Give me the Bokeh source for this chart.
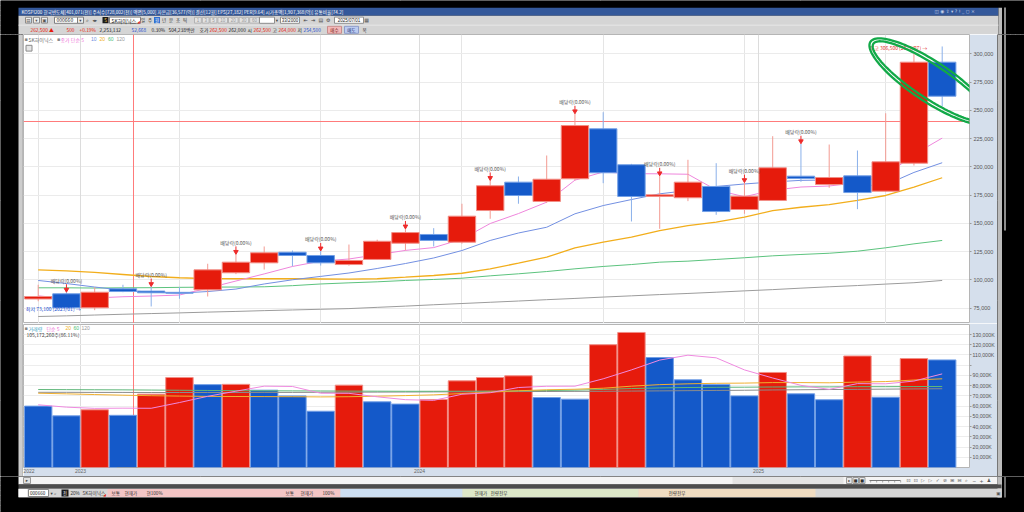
import numpy as np
from bokeh.plotting import figure
from bokeh.models import (Range1d, Label, FixedTicker, Grid,
                          NumeralTickFormatter, PolyAnnotation, ColumnDataSource)
from bokeh.layouts import row, column
from bokeh.embed import file_html
from bokeh.resources import INLINE
from bokeh.core.properties import value

KR = "Noto Sans CJK KR"
SYM = "DejaVu Sans"
NUM = "Liberation Sans"

# ---------------- data : SK하이닉스 monthly candles ----------------
months = ["2022/11", "2022/12",
          "2023/01", "2023/02", "2023/03", "2023/04", "2023/05", "2023/06",
          "2023/07", "2023/08", "2023/09", "2023/10", "2023/11", "2023/12",
          "2024/01", "2024/02", "2024/03", "2024/04", "2024/05", "2024/06",
          "2024/07", "2024/08", "2024/09", "2024/10", "2024/11", "2024/12",
          "2025/01", "2025/02", "2025/03", "2025/04", "2025/05", "2025/06",
          "2025/07"]
opens = [83000, 87600, 75200, 92000, 90000, 88900, 91100, 106200, 115000, 124400,
         121500, 113500, 118000, 132400, 140100, 133300, 161300, 186400, 169300, 189400,
         233600, 201800, 173700, 172600, 182600, 162200, 170200, 191700, 184300, 192000,
         178400, 203200, 292600]
highs = [95600, 89000, 93400, 95600, 94000, 93500, 114200, 122500, 129500, 125900,
         125500, 131200, 135500, 145000, 145700, 167300, 187900, 191400, 210000, 246900,
         248300, 202600, 192000, 206200, 203200, 186000, 227100, 220400, 219700, 214400,
         247400, 300000, 306500]
lows = [81000, 74800, 73100, 89000, 76400, 83200, 85200, 105000, 109100, 112000,
        112600, 112500, 117500, 126000, 129500, 132000, 154000, 167300, 168000, 188000,
        185500, 151600, 145100, 169600, 157500, 158400, 170000, 186700, 181400, 162500,
        178000, 201100, 253400]
closes = [85200, 75200, 89000, 89600, 88500, 88100, 108800, 115600, 123900, 121500,
          115000, 117100, 134100, 141800, 134800, 156300, 183200, 174600, 189000, 236500,
          194700, 173700, 175200, 186400, 160400, 174000, 199100, 189600, 190500, 177200,
          204400, 292600, 262500]
volumes = [60000, 50500, 56400, 51000, 71700, 88000, 81000, 81300, 75600, 70000,
           55000, 80500, 64200, 62000, 66500, 84700, 88000, 89600, 68400, 66800,
           120000, 132000, 107500, 85700, 81000, 70000, 92900, 72000, 66200, 109000,
           68700, 106500, 105172]   # thousand shares

ma5 = [85800, 83400, 83900, 85000, 85600, 86500, 92600, 98900, 105200, 111800,
       116500, 118400, 122200, 126000, 128500, 136000, 149800, 158600, 168700, 188200,
       195400, 193900, 193800, 193400, 179500, 173500, 179300, 182100, 183000, 186000,
       192200, 210900, 225400]
ma10 = [99400, 96700, 93600, 90800, 89000, 88200, 89600, 91800, 96300, 100000,
        103000, 106000, 110000, 114400, 119300, 125900, 134800, 141400, 146500, 158400,
        165700, 171000, 176100, 179000, 182600, 184800, 186600, 188000, 188300, 183000,
        184000, 195000, 203600]
ma20 = [108800, 107800, 106500, 104700, 102900, 101800, 101100, 100900, 100900, 100900,
        100700, 100500, 100900, 102300, 103800, 105800, 109700, 114700, 120000, 128300,
        133300, 137700, 143600, 148000, 151000, 155400, 161300, 164200, 166600, 170200,
        174600, 182100, 190300]
ma60 = [92900, 92900, 92700, 92900, 93000, 93300, 93500, 93600, 93800, 94800,
        96300, 97300, 98200, 99400, 100300, 101400, 103500, 105300, 107300, 109700,
        111800, 113500, 115600, 116500, 118000, 119500, 121200, 122400, 123500, 125300,
        128300, 131800, 134800]
ma120 = [67500, 68100, 68800, 69500, 70100, 70700, 71400, 72000, 72700, 73300,
         73900, 74500, 75600, 76700, 77900, 79000, 80100, 81200, 82400, 83500,
         84700, 85800, 86900, 87900, 89000, 90200, 91300, 92600, 93800, 94900,
         96200, 97400, 99400]
vma5 = [61300, 59000, 57800, 58000, 57900, 63500, 69600, 74600, 79500, 79200,
        72600, 72500, 69100, 66300, 65600, 71600, 73100, 78200, 79400, 79500,
        86700, 95400, 105000, 109800, 107200, 95400, 87500, 80300, 76400, 82000,
        81800, 84500, 91500]
vma20 = [72600, 72000, 71300, 70700, 70200, 69800, 69500, 69400, 69300, 69200,
         69000, 69200, 69700, 70300, 71000, 72300, 73700, 75000, 76000, 76500,
         77500, 79500, 81000, 81800, 82300, 82500, 83000, 83000, 82800, 83500,
         84000, 85500, 86700]
vma60 = [76200, 76100, 76000, 75900, 75700, 75500, 75300, 75100, 75000, 74900,
         74800, 74700, 74600, 74500, 74500, 74600, 74700, 74900, 75200, 75600,
         76300, 77200, 77800, 78200, 78400, 78500, 78700, 78800, 78800, 79000,
         79000, 79100, 79200]
vma120 = [73500, 73500, 73400, 73400, 73300, 73300, 73300, 73300, 73400, 73400,
          73500, 73600, 73700, 73800, 73900, 74000, 74100, 74200, 74300, 74400,
          74500, 74700, 74900, 75100, 75300, 75500, 75800, 76000, 76200, 76400,
          76600, 76800, 77000]
dividend_months = ["2022/12", "2023/03", "2023/06", "2023/09", "2023/12", "2024/03",
                   "2024/06", "2024/09", "2024/12", "2025/02"]
price_ticks = [75000, 100000, 125000, 150000, 175000, 200000, 225000, 250000, 275000, 300000]
volume_ticks = [10000, 20000, 30000, 40000, 50000, 60000, 70000, 80000, 90000,
                100000, 110000, 120000, 130000]

# ---------------- geometry helpers (window pixels -> data) ----------------
XS = -0.52
def PX(x): return XS + (x - 23) / 28.25
XE = PX(969)
PTOP = 317080
def PY(y): return PTOP - (y - 34) * 885
PBOT = PY(323)
def VY(y): return (467 - y) * 977.5
VTOP = VY(324)

RED = "#e61b0c"; BLUE = "#1459c9"
STRIP = "#d5dfec"
CROSS = "#ff7b7b"


def chrome(w, h, x0, x1, y0, y1):
    f = figure(width=w, height=h, x_range=Range1d(x0, x1), y_range=Range1d(y1, y0),
               toolbar_location=None, output_backend="svg",
               min_border_left=0, min_border_right=0, min_border_top=0, min_border_bottom=0,
               x_axis_location=None, y_axis_location=None,
               background_fill_color="black", border_fill_color="black",
               outline_line_color=None)
    f.quad(left=[x0], right=[x1], top=[y0], bottom=[y1], fill_color="black", line_color=None)
    return f


def T(f, x, y, s, color="#333333", size=5, align="left", font=KR, baseline="middle"):
    f.text(x=[x], y=[y], text=[s], text_color=color, text_font=value(font),
           text_font_size=f"{size}px", text_align=align, text_baseline=baseline)


def B(f, l, r, t, b, fill, line=None, lw=1):
    f.quad(left=[l], right=[r], top=[t], bottom=[b], fill_color=fill,
           line_color=line, line_width=lw)


def AL(f, x, y, s, color, size=5, bg=None, border=None, font=NUM, align="left"):
    f.add_layout(Label(x=x, y=y, text=s, text_color=color, text_font=font,
                       text_font_size=f"{size}px", text_align=align, text_baseline="middle",
                       background_fill_color=bg, background_fill_alpha=1.0 if bg else 0.0,
                       border_line_color=border, padding=1 if bg else 0))

# ---------------- header ----------------
hd = chrome(1024, 34, 0, 1024, 0, 34)
B(hd, 18, 998, 7.3, 15.2, "#34589a")
T(hd, 21, 11.3, "KOSPI200 한국반도체[401,071(천)]  주식수[728,002(천)]  액면[5,000]  자본금[36,577(억)]  결산[12월]  EPS[27,182]  PER[9.64]  시가총액[1,907,368(억)]  유통비율[74.2]", "white", 4.6)
T(hd, 934, 11.3, "◫ ◉ ⇪ ▾ ? ! _ ◻ ×", "#c9d3ea", 4.6, font=SYM)
B(hd, 1003.5, 1005.5, 7, 34, "#8d8d8d")
B(hd, 18, 998, 15.2, 34, "#d5d5d5")
B(hd, 998, 1001.5, 7.3, 34, "#bcbcbc")
B(hd, 18, 998, 24.3, 24.9, "#eeeeee")
for lx, s in ((25, "▤"), (33, "▾"), (41, "▣")):
    B(hd, lx, lx + 6, 16.8, 22.6, "#eeeeee", "#8c8c8c")
    T(hd, lx + 3, 19.7, s, "#555555", 4.5, align="center", font=SYM)
B(hd, 54, 77, 16.6, 22.8, "white", "#7f7f7f")
T(hd, 56, 19.7, "000660", "#222222", 5)
B(hd, 77, 83, 16.6, 22.8, "#ececec", "#7f7f7f")
T(hd, 80, 19.7, "▾", "#444444", 4.5, align="center", font=SYM)
T(hd, 85, 19.7, "⌕", "#444444", 5, font=SYM)
T(hd, 92, 19.7, "◂▸", "#444444", 4.5, font=SYM)
B(hd, 102, 108, 16.6, 22.8, "#1a1a1a")
T(hd, 105, 19.7, "S", "#f2c94c", 4.5, align="center")
B(hd, 109, 140, 16.6, 22.8, "white", "#7f7f7f")
T(hd, 111, 19.7, "SK하이닉스", "#111111", 5)
T(hd, 138, 21.5, "◢", RED, 3.5, align="center", font=SYM)
B(hd, 153.5, 159.5, 16.6, 22.8, "#2f6fd0")
for k, s in enumerate(["일", "주", "월", "년", "분", "초", "틱"]):
    T(hd, 142.5 + 7 * k, 19.7, s, "white" if s == "월" else "#333333", 4.5, align="center")
xx = 194
for s in ["1", "3", "5", "10", "20", "30", "60", "120"]:
    w = 4 + 2.8 * len(s)
    B(hd, xx, xx + w, 16.8, 22.6, "#e3e3e3", "#b3b3b3")
    T(hd, xx + w / 2, 19.7, s, "#9a9a9a", 4.5, align="center", font=NUM)
    xx += w + 1
B(hd, 259, 274, 16.6, 22.8, "white", "#8f8f8f")
T(hd, 276.5, 19.7, "▾", "#444444", 4.5, align="center", font=SYM)
B(hd, 280, 299, 16.6, 22.8, "white", "#8f8f8f")
T(hd, 289.5, 19.7, "33/2000", "#222222", 4.5, align="center", font=NUM)
for k, s in enumerate(["⇤", "⇥", "▤", "⚙"]):
    T(hd, 303 + 7.5 * k, 19.7, s, "#444444", 5, font=SYM)
B(hd, 334, 363, 16.6, 22.8, "white", "#8f8f8f")
T(hd, 348.5, 19.7, "2025/07/01", "#222222", 4.5, align="center", font=NUM)
T(hd, 366, 19.7, "▦", "#555555", 5, align="center", font=SYM)

row3 = [(30, "262,500 ▲", RED), (66, "500", RED), (79, "+0.19%", RED),
        (99, "2,253,132", "#222222"), (131, "52,668", "#1f4fd0"), (151, "0.30%", "#222222"),
        (168, "504,238백만", "#222222"), (199, "호가", "#222222"), (209, "262,500", RED),
        (228, "262,000", "#222222"), (247, "시", "#222222"), (253, "262,500", RED),
        (272, "고", "#222222"), (278, "264,000", RED), (297, "저", "#222222"),
        (303, "254,500", "#1f4fd0")]
for x, s, c in row3:
    T(hd, x, 29.3, s, c, 4.8)
B(hd, 327, 341, 25.8, 32.8, "#f2b9b9", "#c98c8c")
T(hd, 334, 29.3, "매수", "#7a1a1a", 4.5, align="center")
B(hd, 344, 358, 25.8, 32.8, "#bccbf0", "#8c9cc9")
T(hd, 351, 29.3, "매도", "#1a2a7a", 4.5, align="center")
T(hd, 362, 29.3, "목", "#333333", 4.5)

# ---------------- left / right frames ----------------
lf = chrome(23, 442, 0, 23, 34, 476)
B(lf, 18, 23, 34, 476, "#cdcdcd")
B(lf, 22, 23, 34, 476, "#a5a5a5")
rf = chrome(27, 442, 997, 1024, 34, 476)
B(rf, 997, 1001.5, 34, 476, "#bcbcbc")
B(rf, 1003.5, 1005.5, 34, 230, "#8d8d8d")

# ---------------- price panel ----------------
n = len(months)
idx = np.arange(n)
year_ticks = [i - 0.5 for i, m in enumerate(months) if m.endswith("/01")]
xlabel_ticks = [XS + 0.03] + year_ticks
xlabel_texts = [months[0][:4]] + [months[int(t + 0.5)][:4] for t in year_ticks]

p = figure(width=974, height=289, x_range=Range1d(XS, XE), y_range=Range1d(PBOT, PTOP),
           x_axis_location=None, y_axis_location="right", toolbar_location=None,
           output_backend="svg", min_border_left=0, min_border_top=0, min_border_bottom=0,
           min_border_right=28, background_fill_color="white", border_fill_color=STRIP,
           outline_line_color="#b5b5b5")
ay = p.yaxis[0]
ay.ticker = FixedTicker(ticks=price_ticks)
ay.formatter = NumeralTickFormatter(format="0,0")
ay.major_label_text_font = NUM
ay.major_label_text_font_size = "5.5px"
ay.major_label_text_color = "#555555"
ay.axis_line_color = None
ay.major_tick_line_color = "#9a9a9a"
ay.major_tick_out = 2
ay.major_tick_in = 0
ay.minor_tick_line_color = None
ay.major_label_standoff = 2
p.ygrid.ticker = FixedTicker(ticks=price_ticks)
p.ygrid.grid_line_color = "#ebebeb"
p.add_layout(Grid(dimension=0, ticker=FixedTicker(ticks=year_ticks), grid_line_color="#dcdcdc"))

# crosshair as 1-px filled strips (drawn under the marks)
cross_x = PX(133)
cross_y = PY(121)
p.quad(left=[XS], right=[XE], top=[cross_y + 0.5 * 885], bottom=[cross_y - 0.5 * 885],
       fill_color=CROSS, line_color=None)
p.quad(left=[cross_x - 0.5 / 28.25], right=[cross_x + 0.5 / 28.25], top=[PTOP], bottom=[PBOT],
       fill_color=CROSS, line_color=None)

ma_styles = [(ma120, "#9c9c9c", 1), (ma60, "#5cc37e", 1), (ma20, "#f2ae1c", 1.3),
             (ma10, "#7390e2", 1), (ma5, "#ef86dc", 1)]
for arr, col, lw in ma_styles:
    p.line(idx, arr, line_color=col, line_width=lw)

up = [c >= o for o, c in zip(opens, closes)]
src = ColumnDataSource(dict(
    x=idx, h=highs, l=lows,
    top=np.maximum(opens, closes), bot=np.minimum(opens, closes),
    fill=[RED if u else BLUE for u in up],
    line=["#f28e86" if u else "#729fe6" for u in up],
    wick=["#f39a92" if u else "#8ab0ea" for u in up]))
p.segment(x0="x", y0="l", x1="x", y1="h", line_color="wick", line_width=1, source=src)
p.vbar(x="x", top="top", bottom="bot", width=0.97, fill_color="fill",
       line_color="line", line_width=1, source=src)

# dividend markers
div_idx = [months.index(m) for m in dividend_months]
div_h = [highs[i] for i in div_idx]
p.segment(x0=div_idx, x1=div_idx, y0=[h + 4 * 885 for h in div_h],
          y1=[h + 8 * 885 for h in div_h], line_color="#ee2a2a", line_width=1)
p.scatter(x=div_idx, y=[h + 2.6 * 885 for h in div_h], marker="inverted_triangle",
          size=4.5, fill_color="#ee2a2a", line_color="#ee2a2a")
p.text(x=div_idx, y=div_h, text=["배당락(0.00%)"] * len(div_idx), y_offset=-8.5,
       text_font=value(KR), text_font_size="5px", text_color="#555555",
       text_align="center", text_baseline="bottom")

# high / low markers
ih = int(np.argmax(highs)); il = int(np.argmin(lows))
p.text(x=[ih], y=[highs[ih]], text=[f"최고 {highs[ih]:,} ({months[ih]}) →"], x_offset=-15,
       y_offset=1, text_font=value(KR), text_font_size="5px", text_color="#e0302a",
       text_align="right", text_baseline="middle")
p.text(x=[il], y=[lows[il]], text=[f"최저 {lows[il]:,} ({months[il]}) →"], x_offset=-14,
       y_offset=-2, text_font=value(KR), text_font_size="5px", text_color="#2050d0",
       text_align="right", text_baseline="middle")

# legend line
T(p, PX(24), PY(38.6), "▪", "#888888", 5, font=SYM)
T(p, PX(28), PY(38.6), "SK하이닉스", "#666666", 5)
T(p, PX(56.5), PY(38.6), "▪", "#888888", 5, font=SYM)
T(p, PX(60), PY(38.6), "종가 단순 5", "#ee70d6", 5)
T(p, PX(90.5), PY(38.6), "10", "#6f8fe0", 5, font=NUM)
T(p, PX(99), PY(38.6), "20", "#f0b020", 5, font=NUM)
T(p, PX(107.5), PY(38.6), "60", "#4fbf74", 5, font=NUM)
T(p, PX(116), PY(38.6), "120", "#999999", 5, font=NUM)
p.quad(left=[PX(25.5)], right=[PX(31.5)], top=[PY(44.8)], bottom=[PY(50.6)],
       fill_color="#e6e6e6", line_color="#8a8a8a")

# axis-strip labels
AL(p, PX(970.5), PY(39.2), "LC 259.10", "#e0302a", 4.8)
AL(p, PX(970.5), PY(44.6), "HC -14.36", "#2050d0", 4.8)
AL(p, PX(972), closes[-1], f"{closes[-1]:,}", "white", 5.2, bg="#1f5fcf")
AL(p, PX(974), PY(102.5), "-10.29%", "#2050d0", 4.6)
AL(p, PX(972), cross_y, f"{int(round(cross_y, -1)):,}", "#333333", 5.2, bg="#f2d066", border="#b08a20")

# hand-drawn green ellipse (double stroke)


def ellipse_pts(cx, cy, a, b, deg):
    t = np.linspace(0, 2 * np.pi, 120)
    th = np.radians(deg)
    X = cx + a * np.cos(t) * np.cos(th) - b * np.sin(t) * np.sin(th)
    Y = cy + a * np.cos(t) * np.sin(th) + b * np.sin(t) * np.cos(th)
    return [PX(x) for x in X], [PY(y) for y in Y]


for a, b in ((72, 20), (68.5, 16.5)):
    exs, eys = ellipse_pts(930, 81, a, b, 33.5)
    p.add_layout(PolyAnnotation(xs=exs, ys=eys, fill_color=None, fill_alpha=0,
                                line_color="#12a948", line_alpha=1.0, line_width=2.3))

# ---------------- volume panel ----------------
v = figure(width=974, height=153, x_range=p.x_range, y_range=Range1d(0, VTOP),
           x_axis_location="below", y_axis_location="right", toolbar_location=None,
           output_backend="svg", min_border_left=0, min_border_top=1, min_border_bottom=9,
           min_border_right=28, background_fill_color="white", border_fill_color=STRIP,
           outline_line_color="#b5b5b5")
vy = v.yaxis[0]
vy.ticker = FixedTicker(ticks=volume_ticks)
vy.major_label_overrides = {t: ("" if t == 100000 else f"{t:,}K") for t in volume_ticks}
vy.major_label_text_font = NUM
vy.major_label_text_font_size = "5.2px"
vy.major_label_text_color = "#555555"
vy.axis_line_color = None
vy.major_tick_line_color = "#9a9a9a"
vy.major_tick_out = 2
vy.major_tick_in = 0
vy.minor_tick_line_color = None
vy.major_label_standoff = 1
vx = v.xaxis[0]
vx.ticker = FixedTicker(ticks=xlabel_ticks)
vx.major_label_overrides = {t: s for t, s in zip(xlabel_ticks, xlabel_texts)}
vx.major_label_text_align = "left"
vx.major_label_text_font = NUM
vx.major_label_text_font_size = "5px"
vx.major_label_text_color = "#666666"
vx.major_label_standoff = 1
vx.major_tick_out = 0
vx.major_tick_in = 0
vx.axis_line_color = None
vx.minor_tick_line_color = None
v.ygrid.ticker = FixedTicker(ticks=volume_ticks)
v.ygrid.grid_line_color = "#ededed"
v.xgrid.ticker = FixedTicker(ticks=year_ticks)
v.xgrid.grid_line_color = "#dcdcdc"

v.quad(left=[cross_x - 0.5 / 28.25], right=[cross_x + 0.5 / 28.25], top=[VTOP], bottom=[0],
       fill_color=CROSS, line_color=None)

vup = [False] + [volumes[i] > volumes[i - 1] for i in range(1, n)]
v.vbar(x=idx, top=volumes, width=0.97,
       fill_color=[RED if u else BLUE for u in vup],
       line_color=["#f28e86" if u else "#729fe6" for u in vup], line_width=1)
for arr, col in ((vma120, "#8c8c8c"), (vma60, "#5fb77a"), (vma20, "#f0b030"), (vma5, "#ef8ae0")):
    v.line(idx, arr, line_color=col, line_width=1)

T(v, PX(24), VY(327.6), "▪", "#888888", 5, font=SYM)
T(v, PX(28), VY(327.6), "거래량", "#3a9fc4", 5)
T(v, PX(46), VY(327.6), "단순 5", "#ee70d6", 5)
T(v, PX(65), VY(327.6), "20", "#f0b020", 5, font=NUM)
T(v, PX(73), VY(327.6), "60", "#4fbf74", 5, font=NUM)
T(v, PX(81), VY(327.6), "120", "#999999", 5, font=NUM)
T(v, PX(26), VY(333.6), f"{volumes[-1] * 1000 + 260:,}주(86.11%)", "#444444", 5)

AL(v, PX(972), volumes[-1], f"{volumes[-1]:,}K", "white", 5, bg="#1f5fcf")
AL(v, PX(974), VY(365), "86.11%", "#2050d0", 4.6)
AL(v, PX(972), VY(471.6), "07/01", "#666666", 4.8)
AL(v, cross_x, VY(471.6), "2023/02/01(수)", "#333333", 4.6, bg="#f2d066",
   border="#c9a23a", font=KR, align="center")

# ---------------- footer ----------------
ft = chrome(1024, 36, 0, 1024, 476, 512)
B(ft, 18, 997, 476, 484, "#f4f4f4")
B(ft, 997, 1001.5, 476, 497, "#bcbcbc")
B(ft, 23, 30, 477, 483, "#e2e2e2", "#9a9a9a")
T(ft, 26.5, 480, "▸", "#444444", 4.5, align="center", font=SYM)
B(ft, 732, 843, 476.5, 483.5, "#e4e4e4")
for k, s in enumerate(["▸", "■", "■"]):
    B(ft, 846 + 6.5 * k, 851.5 + 6.5 * k, 477, 483, "#e8e8e8", "#9a9a9a")
    T(ft, 848.7 + 6.5 * k, 480, s, "#333333", 4, align="center", font=SYM)
B(ft, 869, 900, 479.6, 480.4, "#777777")
for k in range(6):
    B(ft, 870 + 6 * k, 870.6 + 6 * k, 480, 482, "#777777")
for k, s in enumerate(["⊡", "⊡", "▷", "▷", "✓", "⊘", "⊞", "⊟", "⌕", "−", "+", "♟"]):
    T(ft, 906 + 7.3 * k, 480, s, "#555555", 4.8, font=SYM)
B(ft, 18, 1001, 484, 488, "#4d4d4d")
B(ft, 18, 1001, 488, 497, "#d6d6d6")
B(ft, 18, 27, 488.5, 496.5, "white")
B(ft, 28, 48, 489, 496, "white", "#8a8a8a")
T(ft, 29.5, 492.5, "000660", "#222222", 4.6)
T(ft, 50, 492.5, "▾ ⌕", "#444444", 4.5, font=SYM)
B(ft, 61, 68, 489, 496, "#1a1a1a")
T(ft, 64.5, 492.5, "전", "white", 4.2, align="center")
T(ft, 70, 492.5, "20%", "#333333", 4.6, font=NUM)
T(ft, 82, 492.5, "SK하이닉스", "#333333", 4.6)
T(ft, 104, 494, "◢", RED, 3.5, align="center", font=SYM)
B(ft, 107, 340, 488.5, 496.5, "#f3c5c5")
B(ft, 340, 462, 488.5, 496.5, "#cddff2")
B(ft, 462, 638, 488.5, 496.5, "#dde7c8")
B(ft, 638, 815, 488.5, 496.5, "#f0dcc1")
for x, s in ((111, "보통"), (124, "현재가"), (146, "현100%"), (285, "보통"),
             (300, "현재가"), (322, "100%"), (474, "현재가"), (490, "전량전부"),
             (668, "전량전부")):
    T(ft, x, 492.5, s, "#333333", 4.6)
T(ft, 998, 492.5, "▣", "#555555", 4.5, align="center", font=SYM)
B(ft, 1003.5, 1005.5, 476, 497, "#6d6d6d")

page = column(hd, row(lf, column(p, v), rf), ft)
open("out.html", "w").write(file_html(page, INLINE))
